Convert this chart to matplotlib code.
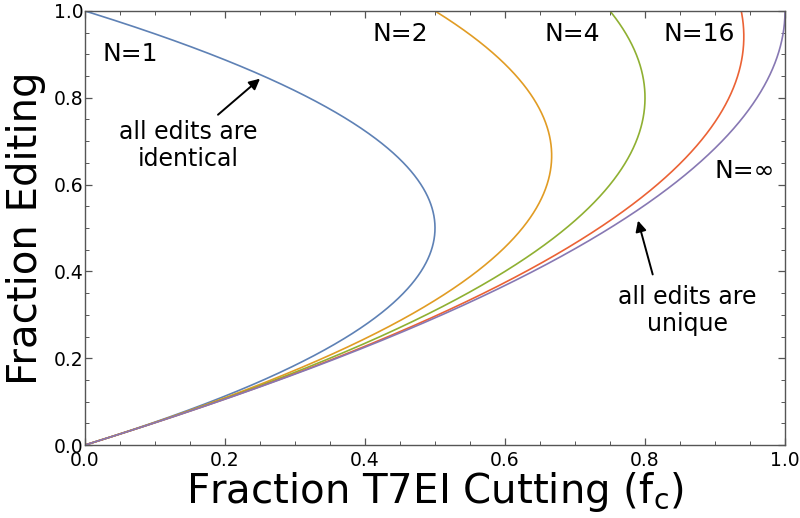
import numpy as np
import matplotlib
matplotlib.use("Agg")
import matplotlib.pyplot as plt
from matplotlib.ticker import MultipleLocator

# Data: number of distinct edit types for each curve
allele_counts = [1, 2, 4, 16, np.inf]
curve_labels = ["N=1", "N=2", "N=4", "N=16", "N=\u221e"]
curve_colors = ["#5E81B5", "#E19C24", "#8FB032", "#EB6235", "#8778B3"]
label_pos = [(0.064, 0.90), (0.45, 0.947), (0.696, 0.947), (0.877, 0.947), (0.943, 0.632)]
tick_values = [0.0, 0.2, 0.4, 0.6, 0.8, 1.0]

plt.rcParams['font.family'] = ['DejaVu Sans']
fig = plt.figure(figsize=(8, 5.18), dpi=100)
ax = fig.add_axes([0.10625, 0.1409, 0.875, 0.8379])

editing = np.linspace(0, 1, 1001)
for n, col in zip(allele_counts, curve_colors):
    cutting = 2 * editing - (1 + 1 / n) * editing ** 2
    ax.plot(cutting, editing, color=col, lw=1.2)

for (x, y), lab in zip(label_pos, curve_labels):
    ax.text(x, y, lab, fontsize=18, ha='center', va='center')

arrow_kw = dict(arrowstyle='-|>', color='black', lw=1.4, mutation_scale=16,
                shrinkA=0, shrinkB=0)
ax.annotate("", xy=(0.25, 0.844), xytext=(0.19, 0.761), arrowprops=arrow_kw)
ax.annotate("", xy=(0.79, 0.517), xytext=(0.811, 0.393), arrowprops=arrow_kw)
ax.text(0.147, 0.69, "all edits are\nidentical", fontsize=17, ha='center',
        va='center', linespacing=1.15)
ax.text(0.861, 0.31, "all edits are\nunique", fontsize=17, ha='center',
        va='center', linespacing=1.15)

ax.set_xlim(0, 1)
ax.set_ylim(0, 1)
ax.set_xticks(tick_values)
ax.set_yticks(tick_values)
ax.xaxis.set_minor_locator(MultipleLocator(0.05))
ax.yaxis.set_minor_locator(MultipleLocator(0.05))
ax.tick_params(which='both', direction='in', top=True, right=True, color='#555555',
               labelsize=13.5)
ax.tick_params(which='major', length=5, width=0.9)
ax.tick_params(which='minor', length=3, width=0.7)
ax.tick_params(axis='x', pad=4)
ax.tick_params(axis='y', pad=1)
for s in ax.spines.values():
    s.set_color('#555555')
    s.set_linewidth(1.0)

ax.set_xlabel("Fraction T7EI Cutting (f$_\\mathregular{c}$)", fontsize=29, labelpad=0)
ax.set_ylabel("Fraction Editing", fontsize=29, labelpad=6)

fig.savefig("out.png", dpi=100)
